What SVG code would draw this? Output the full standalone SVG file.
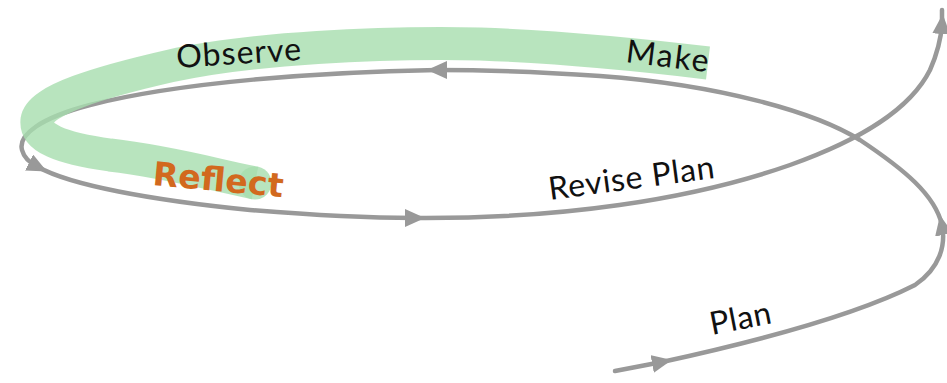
<svg xmlns="http://www.w3.org/2000/svg" width="947" height="383" viewBox="0 0 947 383">
<style>
.band{fill:none;stroke:#a6ddae;stroke-width:33;opacity:0.8}
.line{fill:none;stroke:#999999;stroke-width:4.5;stroke-linecap:round}
.arr{marker-end:url(#ah)}
.lbl{font-family:"Lato","Open Sans","Liberation Sans",sans-serif;font-size:32px;fill:#111}
.refl{font-family:"DejaVu Sans","Liberation Sans",sans-serif;font-size:33px;font-weight:bold;fill:#d2691e}
</style>
<defs>
<marker id="ah" viewBox="0 0 20 18" refX="10" refY="9" markerWidth="20" markerHeight="18" markerUnits="userSpaceOnUse" orient="auto">
<path d="M0,0 L20,9 L0,18 z" fill="#999999"/>
</marker>
</defs>
<rect width="947" height="383" fill="#ffffff"/>
<g id="connectors">
<path class="line arr" d="M615,371 L662,362"/>
<path class="line arr" d="M662,362 C740,345 850,318 915,285 C940,268 946,245 942,225"/>
<path class="line arr" d="M942,225 C935,195 905,170 860,140 C815,112 720,85 600,76 C540,72 480,70 437,70"/>
<path class="line arr" d="M437,70 C320,72 180,82 90,105 C40,118 18,135 22,150 C24,158 30,163 38,167"/>
<path class="line arr" d="M38,167 C70,185 150,200 250,210 C310,215 360,218 415,218"/>
<path class="line arr" d="M415,218 C560,219 690,200 790,165 C860,140 910,110 930,70 C938,52 941,38 942,24"/>
<path class="line" d="M942,24 L942,10"/>
</g>
<g id="highlight">
<path class="band" d="M708,63 C650,56 560,47 480,44 C380,42 250,48 170,66 C100,82 40,100 37,120 C35,138 60,148 110,155 C170,162 215,175 255,183"/>
<circle cx="255" cy="183" r="16.5" fill="#a6ddae" opacity="0.8"/>
</g>
<g id="observe"><text class="lbl" x="177" y="68" textLength="125" transform="rotate(-3.7 177 68)">Observe</text></g>
<g id="make"><text class="lbl" x="625" y="62" textLength="83" transform="rotate(7 625 62)">Make</text></g>
<g id="reflect"><text class="refl" x="152" y="185" textLength="131" transform="rotate(5.3 152 185)">Reflect</text></g>
<g id="revise-plan"><text class="lbl" x="550" y="200" textLength="167" transform="rotate(-7.6 550 200)">Revise Plan</text></g>
<g id="plan"><text class="lbl" x="712" y="335" textLength="62" transform="rotate(-11 712 335)">Plan</text></g>
</svg>
